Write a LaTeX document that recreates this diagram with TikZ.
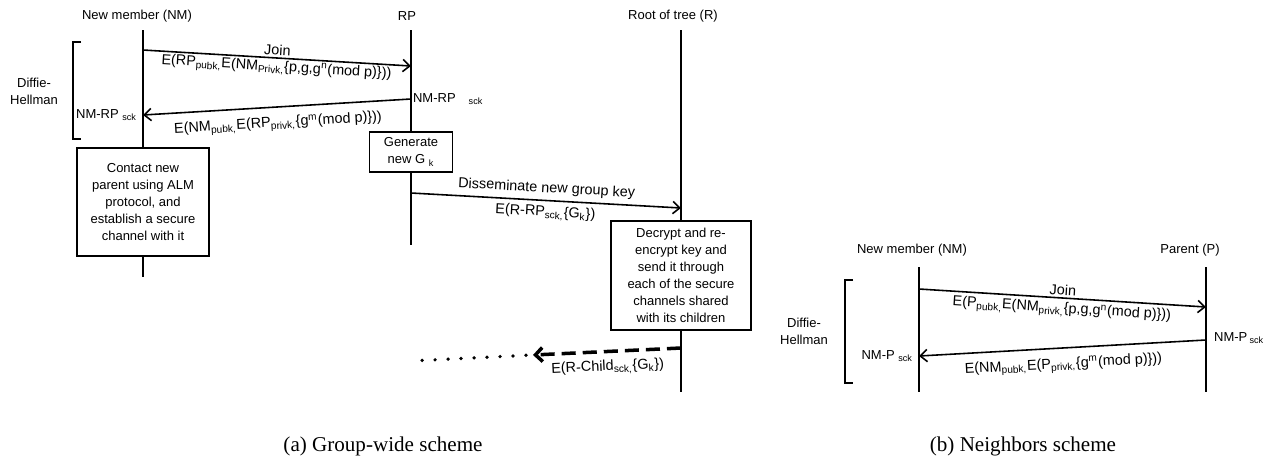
\documentclass[tikz,border=0pt]{standalone}
\usepackage{fontspec}
\setmainfont{Liberation Sans}
\newfontfamily\capfont{Liberation Serif}
\usetikzlibrary{arrows.meta,positioning,calc}

\tikzset{
  hdr/.style={inner sep=0pt},
  lifeline/.style={line width=1pt},
  msg/.style={line width=0.9pt,-{Straight Barb[length=4pt,width=7pt]}},
  procbox/.style={draw,line width=0.9pt,align=center,inner sep=1pt},
  lbl/.style={inner sep=1pt},
  msglbl/.style={inner sep=1pt,font=\fontsize{8.2}{9.6}\selectfont},
  bracket/.style={line width=1pt},
}

\begin{document}
\begin{tikzpicture}[x=0.02cm,y=-0.02cm,font=\fontsize{7.4}{9.6}\selectfont]
  \useasboundingbox (0,0) rectangle (1276,461);

  % (a) group-wide scheme, headers and lifeline ends
  \node[hdr] (nm) at (137,16) {New member (NM)};
  \node[hdr] (rp) at (407,16) {RP};
  \node[hdr] (r) at (673,16) {Root of tree (R)};
  \coordinate (nmtop) at (143,30);
  \coordinate (nmbot) at (143,277);
  \coordinate (rptop) at (411,30);
  \coordinate (rpbot) at (411,245);
  \coordinate (rtop) at (681,30);
  \coordinate (rbot) at (681,392);

  % process boxes on the lifelines
  \node[procbox,minimum width=2.64cm,minimum height=2.16cm] (contact) at (143,202)
    {Contact new\\parent using ALM\\protocol, and\\establish a secure\\channel with it};
  \node[procbox,minimum width=1.66cm,minimum height=0.8cm] (gen) at (411,152)
    {Generate\\new G \textsubscript{k}};
  \node[procbox,minimum width=2.8cm,minimum height=2.18cm] (dec) at (681,275.5)
    {Decrypt and re-\\encrypt key and\\send it through\\each of the secure\\channels shared\\with its children};

  \draw[lifeline] (nmtop) -- (contact.north);
  \draw[lifeline] (contact.south) -- (nmbot);
  \draw[lifeline] (rptop) -- (gen.north);
  \draw[lifeline] (gen.south) -- (rpbot);
  \draw[lifeline] (rtop) -- (dec.north);
  \draw[lifeline] (dec.south) -- (rbot);

  % message end points
  \coordinate (j1) at (143,50);
  \coordinate (j2) at (411,66);
  \coordinate (k1) at (411,99);
  \coordinate (k2) at (143,115);
  \coordinate (d1) at (411,193);
  \coordinate (d2) at (681,208);
  \coordinate (c1) at (681,348);
  \coordinate (c2) at (533,355);
  \coordinate (c3) at (526,355.3);
  \coordinate (c4) at (410,361);

  % messages
  \draw[msg] (j1) -- node[msglbl,above,sloped] {Join}
    node[msglbl,below=0pt,sloped] {E(RP\textsubscript{pubk,}E(NM\textsubscript{Privk,}\{p,g,g\textsuperscript{n}(mod p)\}))} (j2);
  \draw[msg] (k1) -- node[msglbl,below=4pt,sloped] {E(NM\textsubscript{pubk,}E(RP\textsubscript{privk,}\{g\textsuperscript{m}(mod p)\}))} (k2);
  \draw[msg] (d1) -- node[msglbl,above=1.5pt,sloped] {Disseminate new group key}
    node[msglbl,below=1.5pt,sloped] {E(R-RP\textsubscript{sck,}\{G\textsubscript{k}\})} (d2);
  \draw[line width=2pt,dash pattern=on 8pt off 4pt,-{Straight Barb[length=4pt,width=8pt]}] (c1) --
    node[msglbl,below=3pt,sloped] {E(R-Child\textsubscript{sck,}\{G\textsubscript{k}\})} (c2);
  \draw[line width=2.1pt,line cap=round,dash pattern=on 0pt off 7.4pt] (c3) -- (c4);

  % key labels
  \node[lbl,anchor=west] (skrp) at (k1) {NM-RP\quad\textsubscript{sck}};
  \node[lbl,anchor=east] (sknm) at ($(k2)+(-4,0)$) {NM-RP \textsubscript{sck}};

  % Diffie-Hellman bracket
  \node[align=center] (dha) at (34,91) {Diffie-\\Hellman};
  \draw[bracket] (81,42) -- (73,42) -- (73,139) -- (81,139);

  % (b) neighbors scheme
  \node[hdr] (nmb) at (912,250) {New member (NM)};
  \node[hdr] (pb) at (1190,250) {Parent (P)};
  \coordinate (nmbtop) at (919,267);
  \coordinate (nmbbot) at (919,392);
  \coordinate (pbtop) at (1206,267);
  \coordinate (pbbot) at (1206,392);
  \draw[lifeline] (nmbtop) -- (nmbbot);
  \draw[lifeline] (pbtop) -- (pbbot);

  \coordinate (jb1) at (919,289);
  \coordinate (jb2) at (1206,307);
  \coordinate (kb1) at (1206,340);
  \coordinate (kb2) at (919,356);
  \draw[msg] (jb1) -- node[msglbl,above,sloped] {Join}
    node[msglbl,below=1pt,sloped] {E(P\textsubscript{pubk,}E(NM\textsubscript{privk,}\{p,g,g\textsuperscript{n}(mod p)\}))} (jb2);
  \draw[msg] (kb1) -- node[msglbl,below=4pt,sloped] {E(NM\textsubscript{pubk,}E(P\textsubscript{privk,}\{g\textsuperscript{m}(mod p)\}))} (kb2);

  \node[lbl,anchor=west] (skp) at ($(kb1)+(6,-2)$) {NM-P\,\textsubscript{sck}};
  \node[lbl,anchor=east] (sknmb) at ($(kb2)+(-4,0)$) {NM-P \textsubscript{sck}};

  \node[align=center] (dhb) at (804,331) {Diffie-\\Hellman};
  \draw[bracket] (853,280) -- (845,280) -- (845,383) -- (853,383);

  % captions
  \node[font=\capfont\fontsize{12}{14}\selectfont] (capa) at (383,446) {(a) Group-wide scheme};
  \node[font=\capfont\fontsize{12}{14}\selectfont] (capb) at (1023,446) {(b) Neighbors scheme};
\end{tikzpicture}
\end{document}
